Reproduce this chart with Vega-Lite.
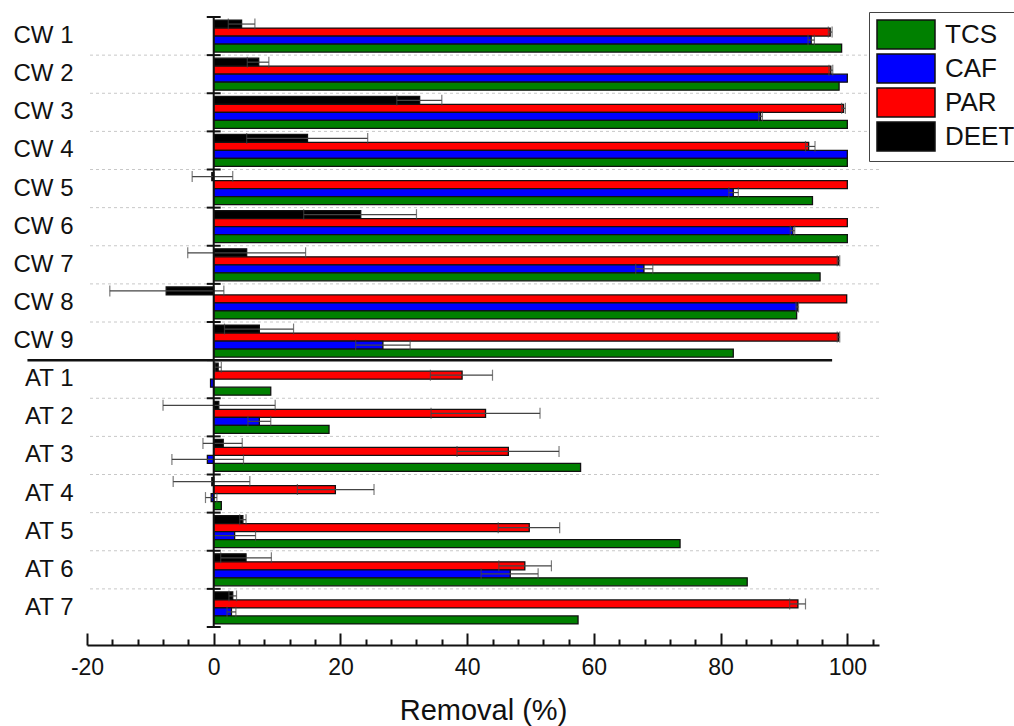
{
  "$schema": "https://vega.github.io/schema/vega-lite/v6.json",
  "width": 792,
  "height": 610,
  "autosize": {"type": "none"},
  "padding": {"left": 87, "top": 17, "right": 135, "bottom": 99},
  "background": "white",
  "config": {
    "font": "Liberation Sans",
    "view": {"stroke": null},
    "legend": {"labelFont": "Liberation Sans"}
  },
  "resolve": {"axis": {"x": "independent"}},
  "datasets": {
    "bars": [
      {"cat": "CW 1", "s": "DEET", "v": 4.4, "lo": 2.3, "hi": 6.5},
      {"cat": "CW 1", "s": "PAR", "v": 97.3, "lo": 97.0, "hi": 97.6},
      {"cat": "CW 1", "s": "CAF", "v": 94.3, "lo": 93.8, "hi": 94.8},
      {"cat": "CW 1", "s": "TCS", "v": 99.1},
      {"cat": "CW 2", "s": "DEET", "v": 7.1, "lo": 5.3, "hi": 8.7},
      {"cat": "CW 2", "s": "PAR", "v": 97.4, "lo": 97.1, "hi": 97.7},
      {"cat": "CW 2", "s": "CAF", "v": 100.0},
      {"cat": "CW 2", "s": "TCS", "v": 98.7},
      {"cat": "CW 3", "s": "DEET", "v": 32.5, "lo": 28.9, "hi": 36.0},
      {"cat": "CW 3", "s": "PAR", "v": 99.4, "lo": 99.1, "hi": 99.7},
      {"cat": "CW 3", "s": "CAF", "v": 86.3, "lo": 86.0, "hi": 86.6},
      {"cat": "CW 3", "s": "TCS", "v": 100.0},
      {"cat": "CW 4", "s": "DEET", "v": 14.8, "lo": 5.2, "hi": 24.3},
      {"cat": "CW 4", "s": "PAR", "v": 93.9, "lo": 93.4, "hi": 94.9},
      {"cat": "CW 4", "s": "CAF", "v": 100.0},
      {"cat": "CW 4", "s": "TCS", "v": 100.0},
      {"cat": "CW 5", "s": "DEET", "v": -0.3, "lo": -3.4, "hi": 3.0},
      {"cat": "CW 5", "s": "PAR", "v": 100.0},
      {"cat": "CW 5", "s": "CAF", "v": 82.0, "lo": 81.3, "hi": 82.8},
      {"cat": "CW 5", "s": "TCS", "v": 94.5},
      {"cat": "CW 6", "s": "DEET", "v": 23.2, "lo": 14.2, "hi": 32.0},
      {"cat": "CW 6", "s": "PAR", "v": 100.0},
      {"cat": "CW 6", "s": "CAF", "v": 91.4, "lo": 91.0, "hi": 91.7},
      {"cat": "CW 6", "s": "TCS", "v": 100.0},
      {"cat": "CW 7", "s": "DEET", "v": 5.2, "lo": -4.1, "hi": 14.5},
      {"cat": "CW 7", "s": "PAR", "v": 98.6, "lo": 98.4, "hi": 98.8},
      {"cat": "CW 7", "s": "CAF", "v": 67.9, "lo": 66.6, "hi": 69.3},
      {"cat": "CW 7", "s": "TCS", "v": 95.7},
      {"cat": "CW 8", "s": "DEET", "v": -7.5, "lo": -16.4, "hi": 1.6},
      {"cat": "CW 8", "s": "PAR", "v": 99.9},
      {"cat": "CW 8", "s": "CAF", "v": 92.1, "lo": 91.9, "hi": 92.3},
      {"cat": "CW 8", "s": "TCS", "v": 92.0},
      {"cat": "CW 9", "s": "DEET", "v": 7.2, "lo": 1.7, "hi": 12.6},
      {"cat": "CW 9", "s": "PAR", "v": 98.6, "lo": 98.4, "hi": 98.8},
      {"cat": "CW 9", "s": "CAF", "v": 26.7, "lo": 22.4, "hi": 31.0},
      {"cat": "CW 9", "s": "TCS", "v": 82.0},
      {"cat": "AT 1", "s": "DEET", "v": 0.7, "lo": 0.2, "hi": 1.2},
      {"cat": "AT 1", "s": "PAR", "v": 39.2, "lo": 34.2, "hi": 44.0},
      {"cat": "AT 1", "s": "CAF", "v": -0.5},
      {"cat": "AT 1", "s": "TCS", "v": 9.0},
      {"cat": "AT 2", "s": "DEET", "v": 0.8, "lo": -8.0, "hi": 9.7},
      {"cat": "AT 2", "s": "PAR", "v": 42.9, "lo": 34.3, "hi": 51.5},
      {"cat": "AT 2", "s": "CAF", "v": 7.2, "lo": 5.4, "hi": 9.0},
      {"cat": "AT 2", "s": "TCS", "v": 18.2},
      {"cat": "AT 3", "s": "DEET", "v": 1.5, "lo": -1.7, "hi": 4.5},
      {"cat": "AT 3", "s": "PAR", "v": 46.5, "lo": 38.4, "hi": 54.5},
      {"cat": "AT 3", "s": "CAF", "v": -1.0, "lo": -6.6, "hi": 4.7},
      {"cat": "AT 3", "s": "TCS", "v": 57.9},
      {"cat": "AT 4", "s": "DEET", "v": -0.3, "lo": -6.4, "hi": 5.7},
      {"cat": "AT 4", "s": "PAR", "v": 19.2, "lo": 13.2, "hi": 25.3},
      {"cat": "AT 4", "s": "CAF", "v": -0.4, "lo": -1.3, "hi": 0.5},
      {"cat": "AT 4", "s": "TCS", "v": 1.2},
      {"cat": "AT 5", "s": "DEET", "v": 4.6, "lo": 4.1, "hi": 5.1},
      {"cat": "AT 5", "s": "PAR", "v": 49.8, "lo": 44.9, "hi": 54.6},
      {"cat": "AT 5", "s": "CAF", "v": 3.3, "lo": 0.0, "hi": 6.6},
      {"cat": "AT 5", "s": "TCS", "v": 73.6},
      {"cat": "AT 6", "s": "DEET", "v": 5.1, "lo": 1.1, "hi": 9.1},
      {"cat": "AT 6", "s": "PAR", "v": 49.1, "lo": 45.0, "hi": 53.3},
      {"cat": "AT 6", "s": "CAF", "v": 46.8, "lo": 42.2, "hi": 51.2},
      {"cat": "AT 6", "s": "TCS", "v": 84.2},
      {"cat": "AT 7", "s": "DEET", "v": 3.0, "lo": 2.4, "hi": 3.6},
      {"cat": "AT 7", "s": "PAR", "v": 92.2, "lo": 90.9, "hi": 93.4},
      {"cat": "AT 7", "s": "CAF", "v": 2.8, "lo": 2.1, "hi": 3.5},
      {"cat": "AT 7", "s": "TCS", "v": 57.5}
    ],
    "bounds": [
      {"cat": "CW 1"}, {"cat": "CW 2"}, {"cat": "CW 3"}, {"cat": "CW 4"},
      {"cat": "CW 5"}, {"cat": "CW 6"}, {"cat": "CW 7"}, {"cat": "CW 8"},
      {"cat": "CW 9"}, {"cat": "AT 1"}, {"cat": "AT 2"}, {"cat": "AT 3"},
      {"cat": "AT 4"}, {"cat": "AT 5"}, {"cat": "AT 6"}, {"cat": "AT 7"}
    ]
  },
  "layer": [
    {
      "data": {"name": "bounds"},
      "transform": [{"filter": "datum.cat !== 'CW 1' && datum.cat !== 'AT 1'"}],
      "mark": {"type": "rule", "color": "#c8c8c8", "strokeWidth": 1, "strokeDash": [3, 3]},
      "encoding": {
        "y": {"field": "cat", "type": "nominal", "bandPosition": 0,
              "scale": {"domain": ["CW 1","CW 2","CW 3","CW 4","CW 5","CW 6","CW 7","CW 8","CW 9","AT 1","AT 2","AT 3","AT 4","AT 5","AT 6","AT 7"], "paddingInner": 0, "paddingOuter": 0},
              "axis": {"title": null, "domain": false, "ticks": false, "labelFontSize": 24, "labelColor": "#111", "labelPadding": 14, "grid": false}}
      }
    },
    {
      "data": {"name": "bars"},
      "mark": {"type": "bar", "stroke": "#111", "strokeWidth": 1.3, "opacity": 1},
      "encoding": {
        "y": {"field": "cat", "type": "nominal"},
        "yOffset": {"field": "s", "type": "nominal", "scale": {"domain": ["DEET","PAR","CAF","TCS"], "paddingInner": 0, "paddingOuter": 0.38}},
        "x": {"field": "v", "type": "quantitative",
              "scale": {"domain": [-20, 105], "nice": false, "zero": false},
              "axis": {
                "orient": "bottom",
                "title": "Removal (%)", "titleFontSize": 29, "titleFontWeight": "normal", "titleColor": "#111",
                "titleBaseline": "alphabetic", "titleY": 74,
                "values": [-20, 0, 20, 40, 60, 80, 100],
                "labelExpr": "'' + datum.value",
                "labelOverlap": false,
                "tickSize": -12,
                "tickColor": "#111", "tickWidth": 2,
                "domainColor": "#111", "domainWidth": 2,
                "offset": 18, "grid": false,
                "labelFontSize": 23, "labelColor": "#111", "labelPadding": 23, "labelFlush": false
              }},
        "color": {"field": "s", "type": "nominal",
                  "scale": {"domain": ["TCS","CAF","PAR","DEET"], "range": ["#008000","#0000ff","#ff0000","#000000"]},
                  "legend": {"title": null, "orient": "none", "legendX": 782, "legendY": -5,
                             "strokeColor": "#444", "padding": 7, "fillColor": "white",
                             "symbolType": "M-1,-1H3V1H-1Z", "symbolSize": 841,
                             "symbolStrokeColor": "#111", "symbolStrokeWidth": 1.5, "symbolOpacity": 1,
                             "labelFontSize": 26, "labelColor": "#111", "labelOffset": 38, "rowPadding": -1}}
      }
    },
    {
      "data": {"name": "bars"},
      "transform": [{"filter": "isValid(datum.lo)"}],
      "mark": {"type": "rule", "color": "#444", "strokeWidth": 1.2},
      "encoding": {
        "y": {"field": "cat", "type": "nominal"},
        "yOffset": {"field": "s", "type": "nominal"},
        "x": {"field": "lo", "type": "quantitative", "axis": null},
        "x2": {"field": "hi"}
      }
    },
    {
      "data": {"name": "bars"},
      "transform": [{"filter": "isValid(datum.lo)"}],
      "mark": {"type": "tick", "color": "#444", "thickness": 1.2, "size": 11},
      "encoding": {
        "y": {"field": "cat", "type": "nominal"},
        "yOffset": {"field": "s", "type": "nominal"},
        "x": {"field": "lo", "type": "quantitative", "axis": null}
      }
    },
    {
      "data": {"name": "bars"},
      "transform": [{"filter": "isValid(datum.hi)"}],
      "mark": {"type": "tick", "color": "#444", "thickness": 1.2, "size": 11},
      "encoding": {
        "y": {"field": "cat", "type": "nominal"},
        "yOffset": {"field": "s", "type": "nominal"},
        "x": {"field": "hi", "type": "quantitative", "axis": null}
      }
    },
    {
      "data": {"values": [{}]},
      "mark": {"type": "rule", "color": "#111", "strokeWidth": 2},
      "encoding": {"x": {"datum": 0, "type": "quantitative",
        "axis": {"orient": "bottom", "title": null, "labels": false, "domain": false, "grid": false,
                 "values": [-16,-12,-8,-4,4,8,12,16,24,28,32,36,44,48,52,56,64,68,72,76,84,88,92,96,104],
                 "tickSize": -6, "tickWidth": 2, "tickColor": "#111", "offset": 18}}}
    },
    {
      "data": {"name": "bounds"},
      "mark": {"type": "rule", "color": "#111", "strokeWidth": 2},
      "encoding": {
        "y": {"field": "cat", "type": "nominal", "bandPosition": 0},
        "x": {"datum": -1.1, "type": "quantitative", "axis": null},
        "x2": {"datum": 1.1}
      }
    },
    {
      "data": {"name": "bounds"},
      "transform": [{"filter": "datum.cat === 'AT 7'"}],
      "mark": {"type": "rule", "color": "#111", "strokeWidth": 2},
      "encoding": {
        "y": {"field": "cat", "type": "nominal", "bandPosition": 1},
        "x": {"datum": -1.1, "type": "quantitative", "axis": null},
        "x2": {"datum": 1.1}
      }
    },
    {
      "data": {"name": "bounds"},
      "transform": [{"filter": "datum.cat === 'AT 1'"}],
      "mark": {"type": "rule", "color": "#111", "strokeWidth": 2.5},
      "encoding": {
        "y": {"field": "cat", "type": "nominal", "bandPosition": 0},
        "x": {"datum": -29.4, "type": "quantitative", "axis": null},
        "x2": {"datum": 97.6}
      }
    }
  ]
}
